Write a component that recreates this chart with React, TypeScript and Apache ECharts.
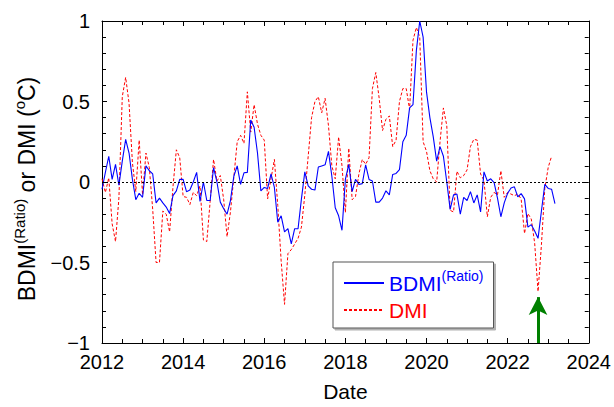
import React, { useEffect, useRef } from "react";
import * as echarts from "echarts";

const startYear = 2012;
const xTicks = { min: 2012, max: 2024, interval: 2 };
const yTicks = { min: -1, max: 1, interval: 0.5 };

// Monthly BDMI(Ratio), Jan 2012 .. Mar 2023
const bdmi = [
  -0.045, 0.06, 0.16, 0.016, 0.11, -0.02, 0.13, 0.265, 0.18, 0.016, -0.11, -0.07,
  -0.095, 0.1, 0.07, 0.05, -0.13, -0.1, -0.13, -0.156, -0.196, -0.085, -0.055, 0.016,
  0.016, -0.06, -0.05, 0, 0.06, -0.12, 0, -0.115, -0.115, 0.09, 0, -0.125,
  -0.166, -0.2, -0.115, 0.036, 0.1, -0.015, 0.057, 0.06, 0.385, 0.34, 0.18, -0.055,
  -0.034, -0.04, 0.05, -0.034, -0.25, -0.21, -0.31, -0.29, -0.385, -0.29, -0.29, -0.105,
  0.063, -0.024, -0.045, -0.05, 0.093, 0.1, 0.107, 0.19, 0.036, -0.16, -0.21, -0.3,
  0.016, 0.11, -0.06, 0.016, -0.015, -0.01, 0.107, 0.016, 0.006, -0.125, -0.125, -0.1,
  -0.055, -0.08, 0.047, 0.053, 0.077, 0.25, 0.29, 0.46, 0.48, 0.816, 1.0, 0.9,
  0.56, 0.4, 0.28, 0.13, 0.22, 0.16, 0, -0.17, -0.08, -0.075, -0.2, -0.095,
  -0.115, -0.06, -0.13, -0.08, -0.186, 0.063, 0.006, 0.02, -0.004, -0.1, -0.216, -0.13,
  -0.07, -0.037, -0.03, -0.092, -0.072, -0.105, -0.28, -0.265, -0.305, -0.35, -0.18, -0.015,
  -0.04, -0.045, -0.135,
];

// Monthly DMI (°C), Jan 2012 .. Feb 2023
const dmi = [
  0.02, -0.065, 0.026, -0.26, -0.37, -0.1, 0.53, 0.65, 0.49, 0.12, -0.06, 0.26,
  -0.08, 0.18, 0.09, -0.17, -0.5, -0.5, -0.18, -0.2, -0.31, -0.03, 0.2, 0.15,
  -0.09, -0.095, -0.14, -0.065, -0.085, -0.024, -0.36, -0.37, -0.12, 0.14, 0.006, 0.04,
  -0.11, -0.34, -0.186, 0.03, 0.25, 0.29, 0.24, 0.56, 0.31, 0.48, 0.36, 0.29,
  0.26, -0.105, 0.02, 0.14, -0.146, -0.49, -0.76, -0.445, -0.42, -0.385, -0.35, -0.28,
  -0.08, 0.16, 0.4, 0.5, 0.53, 0.43, 0.52, 0.35, 0.1, 0.02, 0.28, 0.1,
  -0.19, 0.21, -0.11, -0.09, 0.05, 0.14, 0.11, 0.15, 0.58, 0.68, 0.52, 0.32,
  0.39, 0.41, 0.22, 0.26, 0.5, 0.58, 0.58, 0.45, 0.88, 0.96, 0.9, 0.25,
  0.19, 0.07, 0.02, 0.0, 0.25, 0.46, 0.35, -0.176, -0.186, 0.067, 0.026, 0.04,
  0.075, 0.22, 0.265, 0.26, 0.05, 0.01, -0.216, -0.095, -0.065, -0.08, 0.07, -0.095,
  -0.065, -0.075, -0.085, -0.075, -0.105, -0.32, -0.196, -0.23, -0.38, -0.68, -0.39, -0.04,
  0.09, 0.16,
];

const arrowX = 2022.75;
const arrowFrom = -1;
const arrowTo = -0.715;

const FONT = "'Liberation Sans', Arial, Helvetica, sans-serif";

function fmtY(v: number) {
  const r = Math.round(v * 10) / 10;
  if (r === 0) return "0";
  return (r < 0 ? "\u2212" : "") + String(Math.abs(r));
}

export default function App() {
  const ref = useRef<HTMLDivElement>(null);
  useEffect(() => {
    if (!ref.current) return;
    const chart = echarts.init(ref.current, undefined, { renderer: "svg" });
    const toPts = (arr: number[]) => arr.map((v, i) => [startYear + i / 12, v]);
    const axisLineStyle = { color: "#000", width: 1 };
    const baseX = {
      type: "value" as const,
      min: xTicks.min,
      max: xTicks.max,
      interval: xTicks.interval,
      axisLine: { show: true, onZero: false, lineStyle: axisLineStyle },
      axisTick: { show: true, inside: true, length: 5, lineStyle: axisLineStyle },
      minorTick: { show: true, splitNumber: 4, length: 4, lineStyle: axisLineStyle },
      splitLine: { show: false },
      minorSplitLine: { show: false },
    };
    const baseY = {
      type: "value" as const,
      min: yTicks.min,
      max: yTicks.max,
      interval: yTicks.interval,
      axisLine: { show: true, onZero: false, lineStyle: axisLineStyle },
      axisTick: { show: true, inside: true, length: 5, lineStyle: axisLineStyle },
      minorTick: { show: true, splitNumber: 5, length: 4, lineStyle: axisLineStyle },
      splitLine: { show: false },
      minorSplitLine: { show: false },
    };
    chart.setOption({
      animation: false,
      backgroundColor: "#fff",
      grid: { left: 102, right: 24, top: 21, bottom: 56, containLabel: false },
      xAxis: [
        {
          ...baseX,
          position: "bottom",
          axisLabel: {
            formatter: (v: number) => String(v),
            fontSize: 20,
            color: "#000",
            fontFamily: FONT,
            margin: 9,
          },
          name: "Date",
          nameLocation: "middle",
          nameGap: 38,
          nameTextStyle: { fontSize: 21, color: "#000", fontFamily: FONT },
        },
        { ...baseX, position: "top", axisLabel: { show: false } },
      ],
      yAxis: [
        {
          ...baseY,
          position: "left",
          axisLabel: {
            formatter: (v: number) => fmtY(v),
            fontSize: 20,
            color: "#000",
            fontFamily: FONT,
            margin: 12,
          },
        },
        { ...baseY, position: "right", axisLabel: { show: false } },
      ],
      legend: {
        orient: "vertical",
        left: 333,
        top: 262,
        padding: [7, 10, 4, 10],
        itemWidth: 40,
        itemHeight: 14,
        itemGap: -1,
        backgroundColor: "#fff",
        borderColor: "#555",
        borderWidth: 1,
        shadowColor: "rgba(0,0,0,0.3)",
        shadowOffsetX: 2,
        shadowOffsetY: 2,
        shadowBlur: 1,
        selectedMode: false,
        itemStyle: { opacity: 0, color: "rgba(0,0,0,0)", borderColor: "rgba(0,0,0,0)", borderWidth: 0 },
        data: [
          { name: "BDMI", textStyle: { color: "#0000ff" } },
          { name: "DMI", textStyle: { color: "#ff0000" } },
        ],
        formatter: (name: string) => (name === "BDMI" ? "BDMI{sup|(Ratio)}" : name),
        textStyle: {
          fontSize: 21,
          fontFamily: FONT,
          lineHeight: 28,
          rich: {
            sup: {
              fontSize: 14,
              lineHeight: 14,
              verticalAlign: "top",
              color: "#0000ff",
              fontFamily: FONT,
            },
          },
        },
      },
      graphic: [
        {
          type: "text",
          x: 27,
          y: 189,
          rotation: Math.PI / 2,
          silent: true,
          style: {
            text: "BDMI{sup|(Ratio)} or DMI ({sup|o}C)",
            fontSize: 23,
            fontFamily: FONT,
            fill: "#000",
            align: "center",
            verticalAlign: "middle",
            lineHeight: 30,
            rich: {
              sup: { fontSize: 15, lineHeight: 15, verticalAlign: "top", fill: "#000", fontFamily: FONT },
            },
          },
        },
      ],
      series: [
        {
          name: "DMI",
          type: "line",
          data: toPts(dmi),
          symbol: "none",
          showSymbol: false,
          lineStyle: { color: "#ff0000", width: 1, type: [3, 2] },
          itemStyle: { color: "#ff0000" },
          z: 2,
          markLine: {
            silent: true,
            symbol: ["none", "none"],
            label: { show: false },
            lineStyle: { color: "#000", width: 1, type: [2, 2] },
            data: [{ yAxis: 0 }],
          },
        },
        {
          name: "BDMI",
          type: "line",
          data: toPts(bdmi),
          symbol: "none",
          showSymbol: false,
          lineStyle: { color: "#0000ff", width: 1.1, type: "solid" },
          itemStyle: { color: "#0000ff" },
          z: 3,
          markLine: {
            silent: true,
            symbol: ["none", "arrow"],
            symbolSize: [14, 18],
            label: { show: false },
            lineStyle: { color: "#008000", width: 3, type: "solid" },
            itemStyle: { color: "#008000" },
            data: [[{ coord: [arrowX, arrowFrom] }, { coord: [arrowX, arrowTo] }]],
          },
        },
      ],
    });
    return () => chart.dispose();
  }, []);
  return (
    <div
      ref={ref}
      style={{ position: "fixed", left: 0, top: 0, width: 614, height: 407, background: "#fff" }}
    />
  );
}
